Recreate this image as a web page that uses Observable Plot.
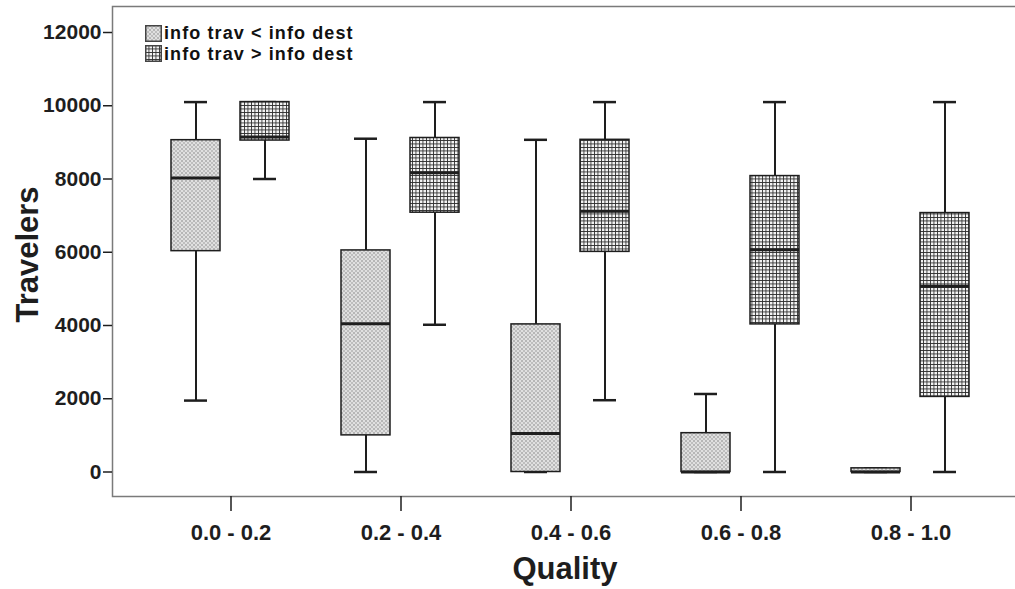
<!DOCTYPE html>
<html>
<head>
<meta charset="utf-8">
<script src="https://cdn.jsdelivr.net/npm/d3@7"></script>
<script src="https://cdn.jsdelivr.net/npm/@observablehq/plot@0.6"></script>
<style>
  html, body { margin: 0; padding: 0; background: #fff; }
  #wrap { position: relative; width: 1015px; height: 589px; overflow: hidden; font-family: "Liberation Sans", Arial, sans-serif; }
  #chart svg { max-width: none !important; }
  #legend { position: absolute; left: 145px; top: 23px; font-weight: bold; font-size: 18px; letter-spacing: 1.1px; color: #111; line-height: 20px; }
  #legend div { display: flex; align-items: center; height: 20.5px; }
  #legend svg { margin-right: 2px; }
</style>
</head>
<body>
<div id="wrap"><div id="chart"></div><div id="legend"></div></div>
<script>
// ---- data ----
const quality = ["0.0 - 0.2", "0.2 - 0.4", "0.4 - 0.6", "0.6 - 0.8", "0.8 - 1.0"];
const series = ["info trav < info dest", "info trav > info dest"];
const yTicks = [0, 2000, 4000, 6000, 8000, 10000, 12000];

// series "info trav < info dest"
const lessLo  = [1950,    0,    0,    0,   0];
const lessQ1  = [6030, 1000,    0,    0,   0];
const lessMed = [8030, 4050, 1050,    0,   0];
const lessQ3  = [9060, 6050, 4030, 1060, 100];
const lessHi  = [10100, 9100, 9070, 2130, 100];

// series "info trav > info dest"
const moreLo  = [8000, 4020, 1960,    0,    0];
const moreQ1  = [9050, 7080, 6010, 4030, 2050];
const moreMed = [9150, 8170, 7120, 6070, 5070];
const moreQ3  = [10100, 9120, 9070, 8080, 7070];
const moreHi  = [10100, 10100, 10100, 10100, 10100];

const build = (s, lo, q1, med, q3, hi) =>
  quality.map((q, i) => ({q, s, lo: lo[i], q1: q1[i], med: med[i], q3: q3[i], hi: hi[i]}));
const lessRows = build(series[0], lessLo, lessQ1, lessMed, lessQ3, lessHi);
const moreRows = build(series[1], moreLo, moreQ1, moreMed, moreQ3, moreHi);

const ink = "#1e1e1e";
function boxMarks(rows, dx, fill) {
  return [
    Plot.ruleX(rows, {x: "q", y1: "lo", y2: "q1", dx, stroke: ink, strokeWidth: 2}),
    Plot.ruleX(rows, {x: "q", y1: "q3", y2: "hi", dx, stroke: ink, strokeWidth: 2}),
    Plot.tickY(rows, {x: "q", y: "lo", dx, insetLeft: 13, insetRight: 13, stroke: ink, strokeWidth: 2.5}),
    Plot.tickY(rows, {x: "q", y: "hi", dx, insetLeft: 13, insetRight: 13, stroke: ink, strokeWidth: 2.5}),
    Plot.barY(rows, {x: "q", y1: "q1", y2: "q3", dx, fill, stroke: ink, strokeWidth: 1.5}),
    Plot.tickY(rows, {x: "q", y: "med", dx, stroke: ink, strokeWidth: 3})
  ];
}

const chart = Plot.plot({
  width: 1020,
  height: 589,
  marginLeft: 112,
  marginRight: 3,
  marginTop: 6,
  marginBottom: 93,
  style: {fontFamily: "'Liberation Sans', Arial, sans-serif", fontWeight: "bold", fontSize: "21px", color: ink, background: "#fff", maxWidth: "none"},
  x: {type: "band", domain: quality, range: [205.5, 935.5], paddingInner: 0.712, paddingOuter: 0},
  y: {domain: [-669, 12710]},
  marks: [
    Plot.frame({stroke: "#7a7a7a", strokeWidth: 1.5}),
    ...boxMarks(lessRows, -35, "url(#patDots)"),
    ...boxMarks(moreRows, 34, "url(#patGrid)"),
    Plot.axisY({ticks: yTicks, tickFormat: d3.format("d"), tickSize: 9, tickPadding: 2, label: null, stroke: ink, strokeWidth: 1.5, fontSize: 21}),
    Plot.axisX({tickSize: 15, tickPadding: 13, label: null, stroke: ink, strokeWidth: 1.5, fontSize: 22}),
    Plot.text(["Travelers"], {frameAnchor: "left", dx: -84, dy: 3, rotate: -90, textAnchor: "middle", lineAnchor: "middle", fontSize: 31, fontWeight: "bold", fill: ink}),
    Plot.text(["Quality"], {frameAnchor: "bottom", dy: 73, textAnchor: "middle", lineAnchor: "middle", fontSize: 31, fontWeight: "bold", fill: ink})
  ]
});

const defs = `
<pattern id="patDots" width="4" height="4" patternUnits="userSpaceOnUse">
  <rect width="4" height="4" fill="#e0e0e0"/>
  <circle cx="1" cy="1" r="0.8" fill="#808080"/>
  <circle cx="3" cy="3" r="0.8" fill="#949494"/>
</pattern>
<pattern id="patGrid" width="3.5" height="3.5" patternUnits="userSpaceOnUse">
  <rect width="3.5" height="3.5" fill="#f2f2f2"/>
  <path d="M0,0.4H3.5M0.4,0V3.5" stroke="#2e2e2e" stroke-width="0.9"/>
</pattern>`;
d3.select(chart).insert("defs", ":first-child").html(defs);
document.getElementById("chart").appendChild(chart);

// legend
const leg = d3.select("#legend");
[["url(#patDots)", series[0]], ["url(#patGrid)", series[1]]].forEach(([fill, label]) => {
  const row = leg.append("div");
  const sw = row.append("svg").attr("width", 17).attr("height", 17);
  sw.append("rect").attr("x", 0.75).attr("y", 0.75).attr("width", 15.5).attr("height", 15.5)
    .attr("fill", fill).attr("stroke", "#444").attr("stroke-width", 1.5);
  row.append("span").text(label);
});
</script>
</body>
</html>
